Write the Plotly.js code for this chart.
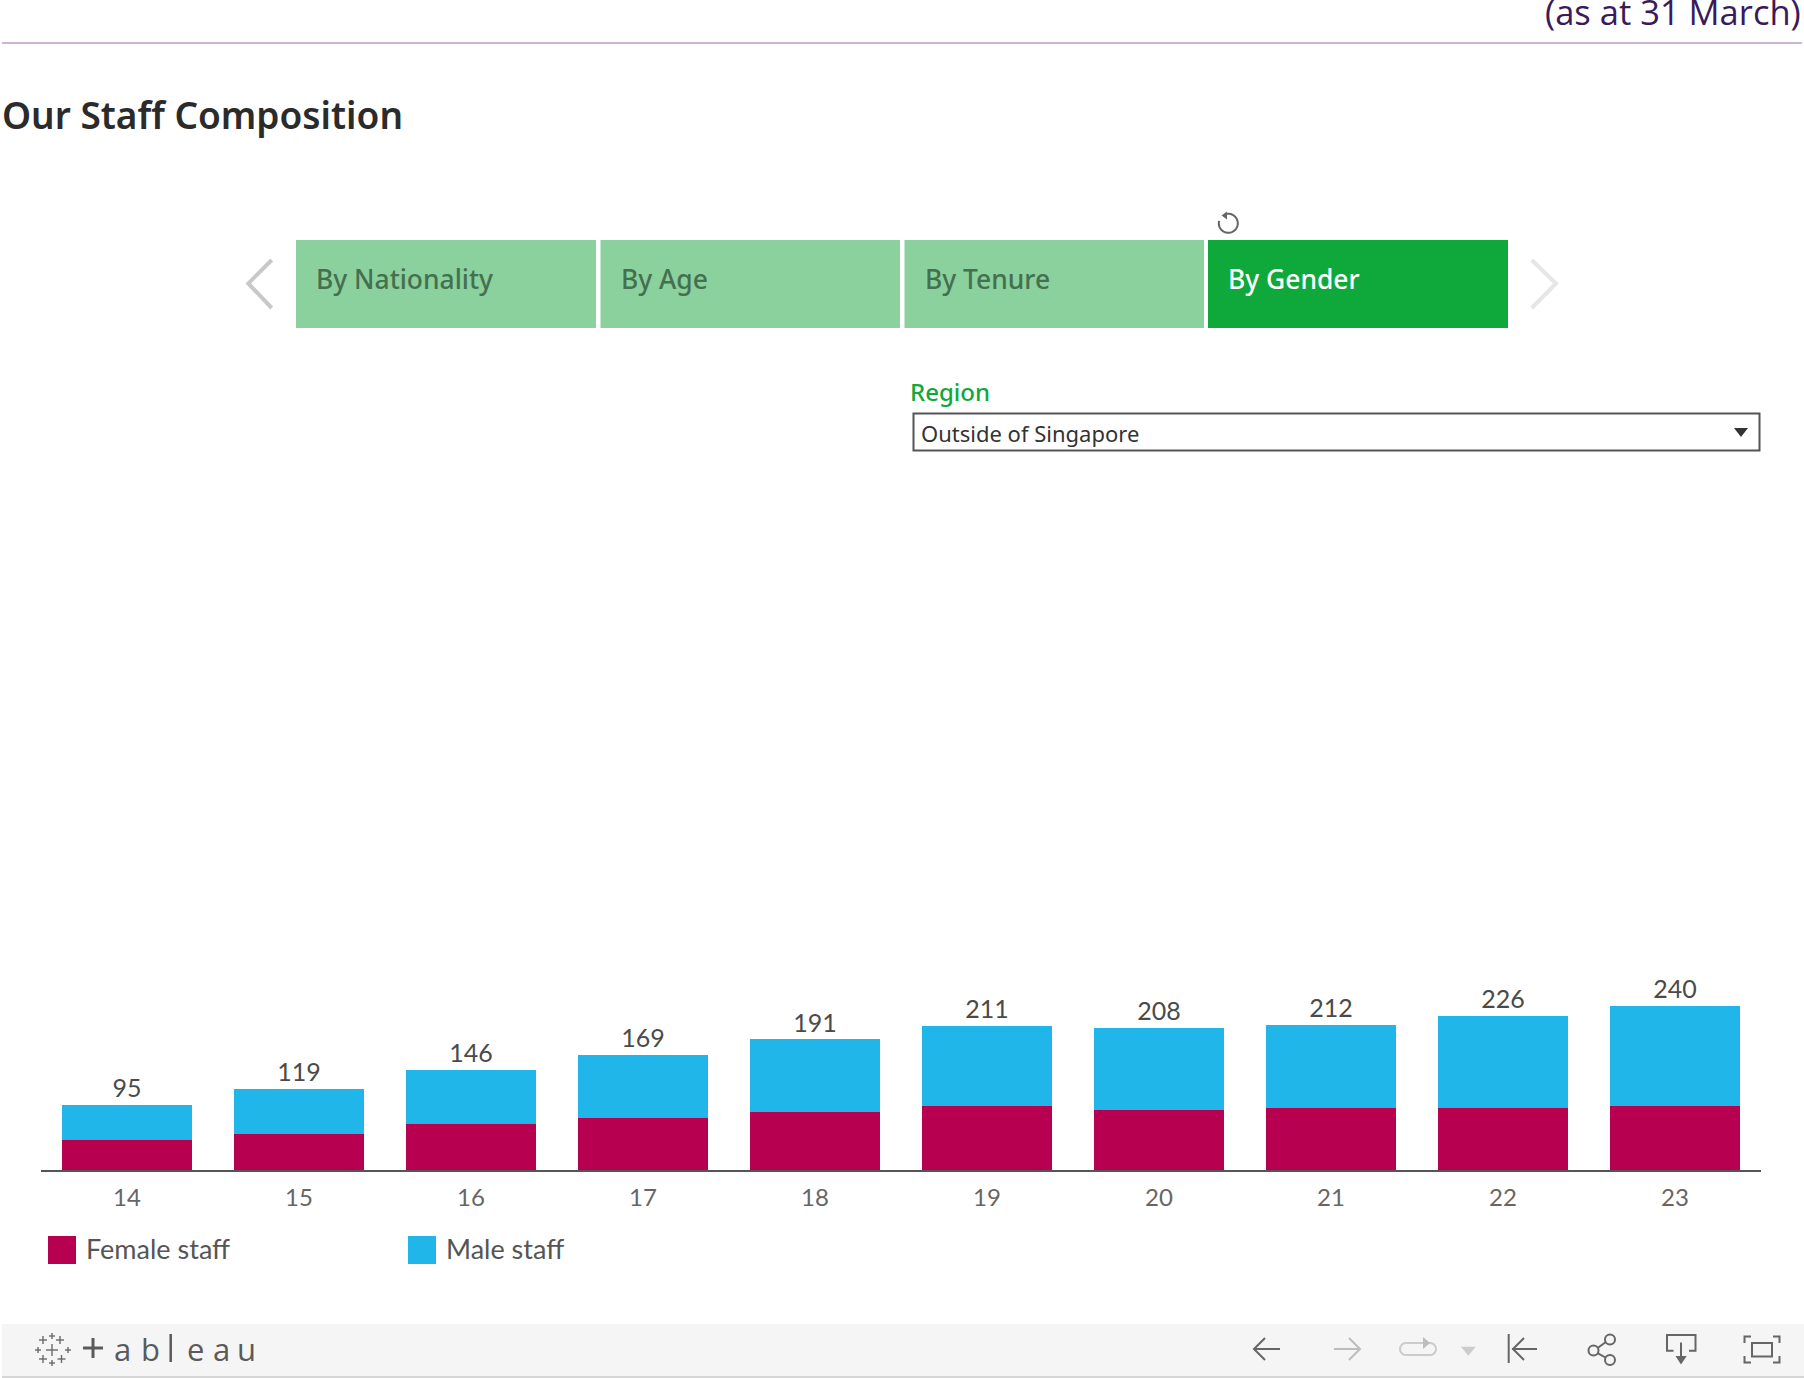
<!DOCTYPE html>
<html>
<head>
<meta charset="utf-8">
<script src="https://cdn.plot.ly/plotly-3.0.1.min.js"></script>
<style>html,body{margin:0;padding:0;background:#fff;overflow:hidden}#chart{width:1804px;height:1378px}</style>
</head>
<body>
<div id="chart"></div>
<script>
const years = ['14','15','16','17','18','19','20','21','22','23'];
const femaleStaff = [44,53,67,76,85,94,88,91,91,94];
const maleStaff = [51,66,79,93,106,117,120,121,135,146];
const totals = [95,119,146,169,191,211,208,212,226,240];
const seriesNames = ['Female staff','Male staff'];
const seriesColors = ['#b7004f','#20b6e9'];
const tabLabels = ['By Nationality','By Age','By Tenure','By Gender'];
const W = 1804, H = 1378;
const ML = 41, MR = 43, MT = 965, MB = 208;
const fx = x => (x - ML) / (W - ML - MR), fy = y => 1 - (y - MT) / (H - MT - MB);
const UI = '"Noto Sans","Open Sans",sans-serif';
const LBL = 'Lato,"Open Sans",sans-serif';
const shapes = [], annotations = [];
function rect(x0,y0,x1,y1,fill,line){shapes.push({type:'rect',xref:'paper',yref:'paper',x0:fx(x0),x1:fx(x1),y0:fy(y0),y1:fy(y1),fillcolor:fill||'rgba(0,0,0,0)',line:line||{width:0},layer:'above'});}
function poly(pts,color,width,fill){const d=pts.map((p,i)=>(i?'L':'M')+fx(p[0])+','+fy(p[1])).join('')+(fill?'Z':'');
  shapes.push({type:'path',xref:'paper',yref:'paper',path:d,fillcolor:fill?color:'rgba(0,0,0,0)',line:{color:color,width:fill?0:width},layer:'above'});}
function circle(cx,cy,r,color,width){shapes.push({type:'circle',xref:'paper',yref:'paper',x0:fx(cx-r),x1:fx(cx+r),y0:fy(cy+r),y1:fy(cy-r),line:{color:color,width:width},fillcolor:'rgba(0,0,0,0)',layer:'above'});}
function text(t,x,y,size,color,opt){opt=opt||{};annotations.push({text:t,xref:'paper',yref:'paper',x:fx(x),y:fy(y),xanchor:opt.anchor||'left',yanchor:'middle',showarrow:false,borderpad:0,font:{family:opt.family||UI,size:size,color:color,weight:opt.weight||400}});}
function arc(cx,cy,r,a0,a1,n){const p=[];for(let i=0;i<=n;i++){const a=(a0+(a1-a0)*i/n)*Math.PI/180;p.push([cx+r*Math.cos(a),cy+r*Math.sin(a)]);}return p;}

// header
text('(as at 31 March)',1802,11,34.5,'#3a1a58',{anchor:'right',family:'"Open Sans",sans-serif'});
rect(2,42,1802,44,'#c9b6d1');

// tabs
const tabX=[[296,596],[600.5,900],[904.5,1204],[1208,1508]];
tabLabels.forEach((t,i)=>{const active=i===3;
  rect(tabX[i][0],240,tabX[i][1],328,active?'#0fa83a':'#8bd19e');
  text(t,tabX[i][0]+19,279,26.4,active?'#ffffff':'#44704f',{weight:500});});
poly([[271.7,260],[248.3,283.5],[271.7,308]],'#c8c8c8',4);
poly([[1531.7,260],[1556,283.5],[1531.7,308]],'#e6e6e6',4);
poly(arc(1228.3,223.3,9.5,-110,195,36),'#666666',2);
poly([[1221.5,215.5],[1227,211.5],[1227,219.5]],'#666666',0,true);

// filter
text('Region',909.5,391,24,'#0fa83a',{weight:500});
rect(913.5,413.5,1759.5,450.5,'#ffffff',{color:'#555555',width:2});
text('Outside of Singapore',919.5,432.5,22,'#333333');
poly([[1734,428],[1748,428],[1741,437]],'#333333',0,true);

// legend
const legX=[48,408];
seriesNames.forEach((n,i)=>{
  rect(legX[i],1236,legX[i]+28,1264,seriesColors[i]);
  text(n,legX[i]+37,1248,27,'#555555',{family:LBL});});

// toolbar
rect(2,1324,1804,1376,'#f5f5f5');
rect(2,1376,1804,1378,'#d6d6d6');
[[52,1336,3],[43,1340,4],[60,1340,4],[38,1350,3],[52,1350,6],[68,1350,3],[43,1359,4],[61.5,1359,4],[52,1363,3]].forEach(c=>{
  poly([[c[0]-c[2],c[1]],[c[0]+c[2],c[1]]],'#6a6a6a',1.4);poly([[c[0],c[1]-c[2]],[c[0],c[1]+c[2]]],'#6a6a6a',1.4);});
poly([[83,1348],[103,1348]],'#5a5a5a',3);poly([[93,1338],[93,1358]],'#5a5a5a',3);
[['a',122.5],['b',150],['e',195],['a',221.7],['u',246.7]].forEach(l=>text(l[0],l[1],1348.5,31,'#5a5a5a',{anchor:'center',family:'"Open Sans",sans-serif'}));
poly([[170.7,1334],[170.7,1362]],'#5a5a5a',2.5);
const ic='#666666',dis='#bdbdbd';
poly([[1254,1349],[1280,1349]],ic,2);poly([[1265,1338],[1254,1349],[1265,1360]],ic,2);
poly([[1334,1349],[1360,1349]],dis,2);poly([[1349,1338],[1360,1349],[1349,1360]],dis,2);
poly(arc(1406,1349,6,90,270,10).concat(arc(1430,1349,6,-90,90,10)).concat([[1406,1355]]),'#cccccc',2);
poly([[1423,1337],[1430,1343],[1423,1349]],'#bdbdbd',0,true);
poly([[1461,1346.7],[1475.7,1346.7],[1468.3,1355.7]],'#cccccc',0,true);
poly([[1508.7,1334],[1508.7,1363]],ic,2);poly([[1512,1349],[1537,1349]],ic,2);poly([[1524,1338],[1513,1349],[1524,1360]],ic,2);
circle(1610,1339.5,5,ic,2);circle(1593.5,1350.5,5,ic,2);circle(1610,1360,5,ic,2);
poly([[1605.5,1342.3],[1598,1347.7]],ic,2);poly([[1598,1353.3],[1605.5,1357.5]],ic,2);
poly([[1673.5,1350.7],[1667,1350.7],[1667,1335],[1695.5,1335],[1695.5,1350.7],[1689,1350.7]],ic,2);
poly([[1681,1342.5],[1681,1357]],ic,2);poly([[1675.5,1356],[1686.7,1356],[1681,1364.5]],ic,0,true);
rect(1752,1343,1772,1356.5,'rgba(0,0,0,0)',{color:ic,width:2});
poly([[1744.5,1343],[1744.5,1336.5],[1751,1336.5]],ic,2);poly([[1773,1336.5],[1779.5,1336.5],[1779.5,1343]],ic,2);
poly([[1744.5,1356],[1744.5,1362.5],[1751,1362.5]],ic,2);poly([[1773,1362.5],[1779.5,1362.5],[1779.5,1356]],ic,2);

const traces = [
  {type:'bar',name:seriesNames[0],x:years,y:femaleStaff,marker:{color:seriesColors[0]}},
  {type:'bar',name:seriesNames[1],x:years,y:maleStaff,marker:{color:seriesColors[1]}},
  {type:'scatter',mode:'markers+text',name:'Total',x:years,y:totals,text:totals.map(String),textposition:'top center',cliponaxis:false,
   marker:{size:1,opacity:0},textfont:{family:LBL,size:25,color:'#4a4a4a'}}
];
const layout = {
  width:W,height:H,autosize:false,
  paper_bgcolor:'#ffffff',plot_bgcolor:'#ffffff',
  title:{text:'Our Staff Composition',x:2/W,xanchor:'left',xref:'container',y:1-116/H,yanchor:'middle',
         font:{family:UI,size:37,color:'#2b2b2b',weight:600}},
  margin:{l:ML,r:MR,t:MT,b:MB,pad:0},
  barmode:'stack',bargap:0.243,showlegend:false,hovermode:false,
  xaxis:{type:'category',range:[-0.5,9.5],autorange:false,showgrid:false,zeroline:false,showline:true,linecolor:'#555555',linewidth:1.5,ticks:'outside',ticklen:5.5,tickcolor:'rgba(0,0,0,0)',
         tickfont:{family:LBL,size:24,color:'#666666'},fixedrange:true},
  yaxis:{range:[0,300],visible:false,fixedrange:true},
  shapes:shapes,annotations:annotations
};
Plotly.newPlot('chart',traces,layout,{displayModeBar:false,staticPlot:true});
</script>
</body>
</html>
